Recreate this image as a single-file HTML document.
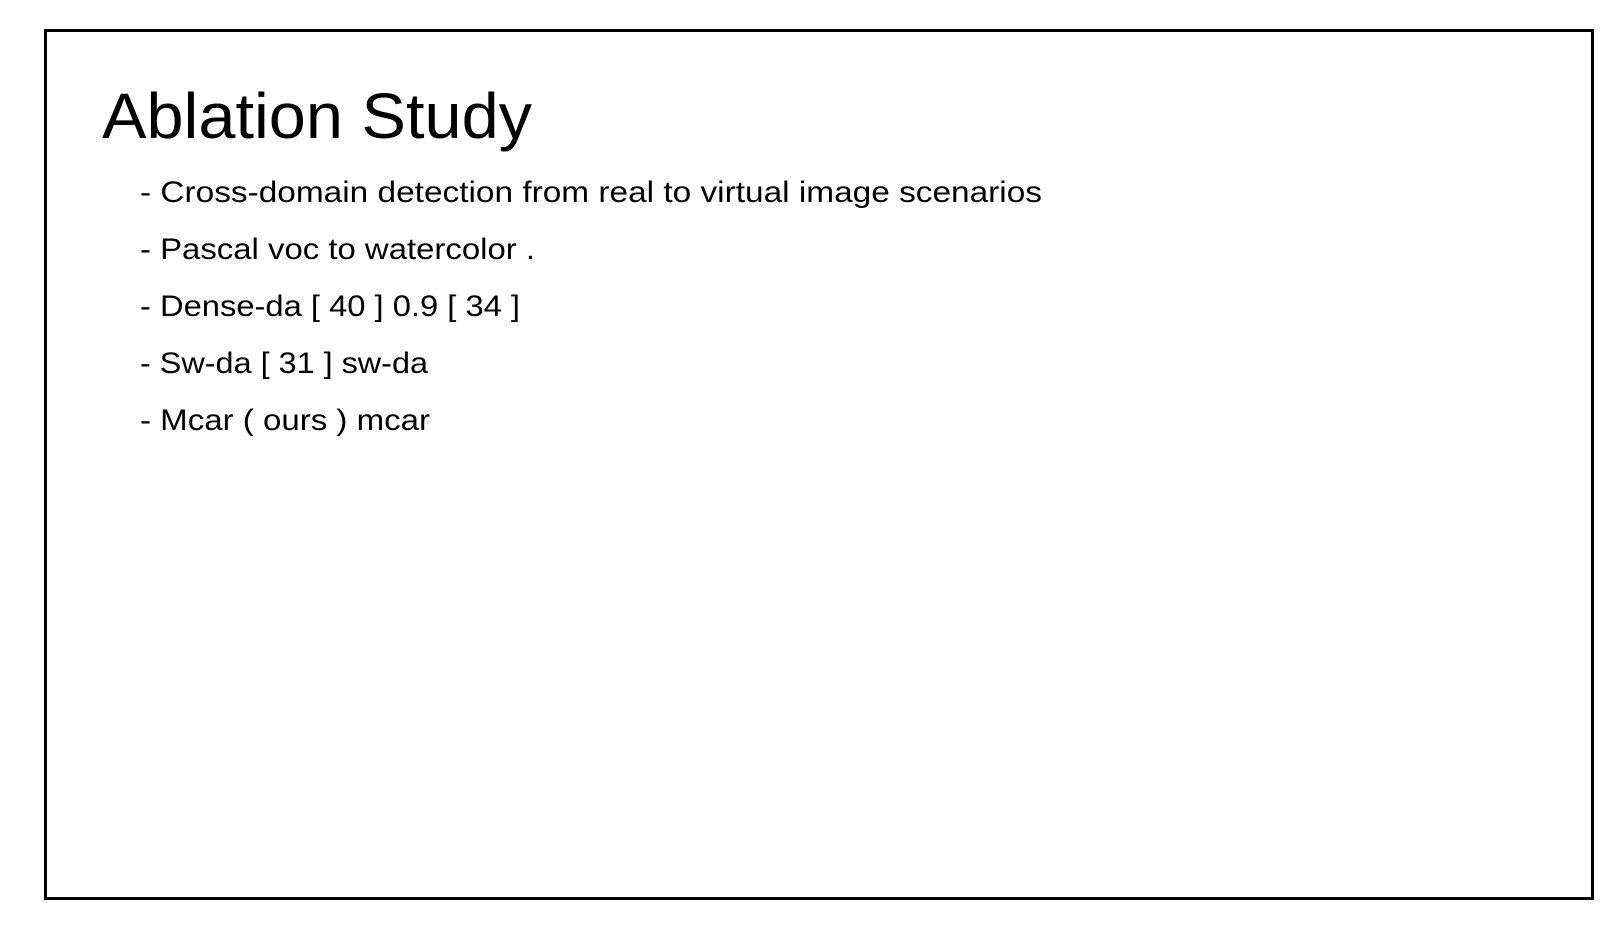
<!DOCTYPE html>
<html><head><meta charset="utf-8"><style>
html,body{margin:0;padding:0;background:#fff;}
svg{display:block;font-family:"Liberation Sans",sans-serif;}
</style></head><body>
<svg width="1620" height="944" viewBox="0 0 1620 944">
<rect x="45.5" y="30.5" width="1547" height="868" fill="none" stroke="#000" stroke-width="3"/>
<text x="102" y="138" font-size="64" textLength="430" lengthAdjust="spacingAndGlyphs">Ablation Study</text>
<g font-size="30">
<text x="140" y="202" textLength="902" lengthAdjust="spacingAndGlyphs">- Cross-domain detection from real to virtual image scenarios</text>
<text x="140" y="259" textLength="395" lengthAdjust="spacingAndGlyphs">- Pascal voc to watercolor .</text>
<text x="140" y="316" textLength="380" lengthAdjust="spacingAndGlyphs">- Dense-da [ 40 ] 0.9 [ 34 ]</text>
<text x="140" y="373" textLength="288" lengthAdjust="spacingAndGlyphs">- Sw-da [ 31 ] sw-da</text>
<text x="140" y="430" textLength="290" lengthAdjust="spacingAndGlyphs">- Mcar ( ours ) mcar</text>
</g>
</svg>
</body></html>
